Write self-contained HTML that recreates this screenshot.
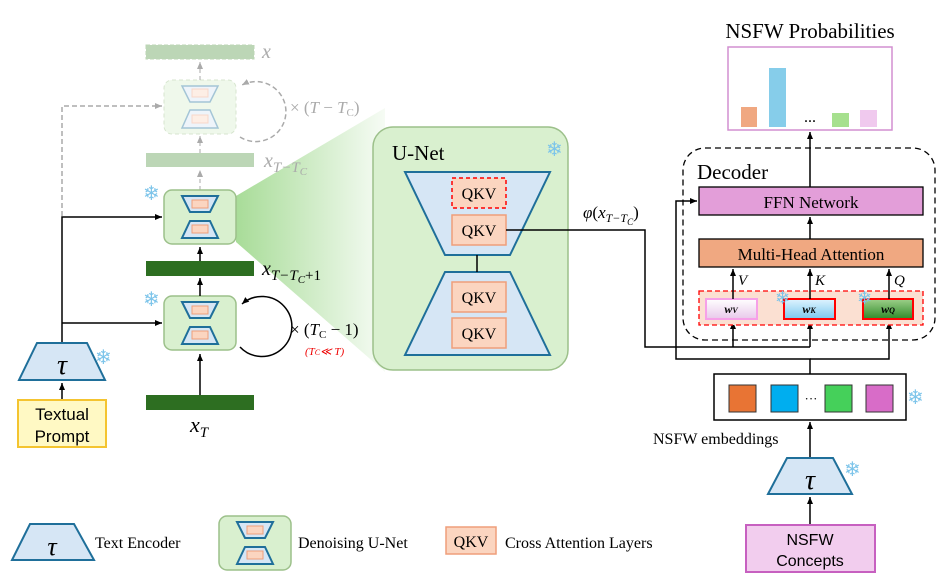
<!DOCTYPE html>
<html><head><meta charset="utf-8"><style>body{margin:0;background:#fff}svg{display:block}text{font-family:"Liberation Serif",serif}</style></head>
<body>
<svg width="946" height="585" viewBox="0 0 946 585" xmlns="http://www.w3.org/2000/svg">
<defs>
<linearGradient id="g" x1="0" x2="1" y1="0" y2="0"><stop offset="0" stop-color="#a8dc98"/><stop offset="1" stop-color="#a8dc98" stop-opacity="0.1"/></linearGradient>
<linearGradient id="wv" x1="0" x2="0" y1="0" y2="1"><stop offset="0" stop-color="#fff"/><stop offset="1" stop-color="#e8c8ea"/></linearGradient>
<linearGradient id="wk" x1="0" x2="0" y1="0" y2="1"><stop offset="0" stop-color="#e0f4ff"/><stop offset="1" stop-color="#7cc8ee"/></linearGradient>
<linearGradient id="wq" x1="0" x2="0" y1="0" y2="1"><stop offset="0" stop-color="#9ed08a"/><stop offset="1" stop-color="#2f8a2a"/></linearGradient>
<marker id="a" markerWidth="8" markerHeight="8" refX="7" refY="4" orient="auto" markerUnits="userSpaceOnUse"><path d="M0,1 L7,4 L0,7z" fill="#000"/></marker>
<marker id="ag" markerWidth="8" markerHeight="8" refX="7" refY="4" orient="auto" markerUnits="userSpaceOnUse"><path d="M0,1 L7,4 L0,7z" fill="#aaa"/></marker>
<g id="un">
<rect x="0" y="0" width="72" height="54" rx="8" fill="#d9f0cf" stroke="#9cc08a" stroke-width="1.5"/>
<path d="M18,6 H54 L46,22 H26z" fill="#d6e6f5" stroke="#1f6f9a" stroke-width="2"/>
<rect x="28" y="10" width="16" height="8" fill="#fbd5c0" stroke="#ef9e7a"/>
<path d="M26,31 H46 L54,48 H18z" fill="#d6e6f5" stroke="#1f6f9a" stroke-width="2"/>
<rect x="28" y="35" width="16" height="8" fill="#fbd5c0" stroke="#ef9e7a"/>
</g>
</defs>
<polygon points="236,196 385,108 385,372 236,242" fill="url(#g)"/>
<g opacity="0.4">
<rect x="146" y="45" width="108" height="14" fill="#5a9a4a" stroke="#5a9a4a" stroke-dasharray="4 2"/>
<rect x="164" y="80" width="72" height="54" rx="8" fill="#d9f0cf" stroke="#9cc08a" stroke-dasharray="4 3"/>
<path d="M182,86 H218 L210,102 H190z" fill="#d6e6f5" stroke="#1f6f9a" stroke-width="1.5"/>
<path d="M190,110 H210 L218,128 H182z" fill="#d6e6f5" stroke="#1f6f9a" stroke-width="1.5"/>
<rect x="192" y="89" width="16" height="8" fill="#fbd5c0" stroke="#ef9e7a"/>
<rect x="192" y="115" width="16" height="8" fill="#fbd5c0" stroke="#ef9e7a"/>
<rect x="146" y="153" width="108" height="14" fill="#5a9a4a"/>
</g>
<text x="262" y="58" font-size="20" font-style="italic" fill="#aaa">x</text>
<text x="264" y="167" font-size="20" font-style="italic" fill="#aaa">x<tspan font-size="15" dy="5">T−T</tspan><tspan font-size="11" dy="3">C</tspan></text>
<path d="M200,80 V62" stroke="#aaa" stroke-dasharray="4 3" marker-end="url(#ag)"/>
<path d="M200,153 V136" stroke="#aaa" stroke-dasharray="4 3" marker-end="url(#ag)"/>
<path d="M200,190 V170" stroke="#aaa" stroke-dasharray="4 3" marker-end="url(#ag)"/>
<path d="M62,216 V106 H162" fill="none" stroke="#aaa" stroke-width="1.5" stroke-dasharray="5 3" marker-end="url(#ag)"/>
<path d="M240,137 A30,30 0 1 0 242,85" fill="none" stroke="#aaa" stroke-width="1.5" stroke-dasharray="5 3" marker-end="url(#ag)"/>
<text x="290" y="113" font-size="17" fill="#aaa">× (<tspan font-style="italic">T</tspan> − <tspan font-style="italic">T</tspan><tspan font-size="11" dy="3">C</tspan><tspan dy="-3">)</tspan></text>
<use href="#un" x="164" y="190"/>
<rect x="146" y="261" width="108" height="15" fill="#2d6e21"/>
<use href="#un" x="164" y="296"/>
<rect x="146" y="395" width="108" height="15" fill="#2d6e21"/>
<path d="M200,261 V247" stroke="#000" stroke-width="1.5" marker-end="url(#a)"/>
<path d="M200,296 V278" stroke="#000" stroke-width="1.5" marker-end="url(#a)"/>
<path d="M200,395 V354" stroke="#000" stroke-width="1.5" marker-end="url(#a)"/>
<path d="M240,347 A30,30 0 1 0 242,304" fill="none" stroke="#000" stroke-width="1.5" marker-end="url(#a)"/>
<text x="262" y="275" font-size="20" font-style="italic">x<tspan font-size="15" dy="5">T−T</tspan><tspan font-size="11" dy="3">C</tspan><tspan font-size="15" dy="-3" font-style="normal">+1</tspan></text>
<text x="290" y="335" font-size="17">× (<tspan font-style="italic">T</tspan><tspan font-size="11" dy="3">C</tspan><tspan dy="-3"> − 1)</tspan></text>
<text x="305" y="355" font-size="11" fill="#e00" font-style="italic">(T<tspan font-size="8">C</tspan>≪ T)</text>
<text x="190" y="432" font-size="22" font-style="italic">x<tspan font-size="15" dy="5">T</tspan></text>
<text x="143" y="200" font-size="20" fill="#7cc4ea">❄</text>
<text x="143" y="306" font-size="20" fill="#7cc4ea">❄</text>
<path d="M62,343 V217 H162" fill="none" stroke="#000" stroke-width="1.5" marker-end="url(#a)"/>
<path d="M62,323 H162" stroke="#000" stroke-width="1.5" marker-end="url(#a)"/>
<path d="M37,343 H87 L105,380 H19z" fill="#d6e6f5" stroke="#1f6f9a" stroke-width="2"/>
<text x="62" y="374" font-size="28" font-style="italic" text-anchor="middle">τ</text>
<text x="95" y="364" font-size="20" fill="#7cc4ea">❄</text>
<path d="M62,400 V383" stroke="#000" stroke-width="1.5" marker-end="url(#a)"/>
<rect x="18" y="400" width="88" height="47" fill="#fff9c4" stroke="#f4c430" stroke-width="2"/>
<text x="62" y="420" font-size="17" text-anchor="middle" style="font-family:'Liberation Sans'">Textual</text>
<text x="62" y="442" font-size="17" text-anchor="middle" style="font-family:'Liberation Sans'">Prompt</text>
<rect x="373" y="127" width="195" height="243" rx="20" fill="#d9f0cf" stroke="#9cc08a" stroke-width="1.5"/>
<text x="392" y="160" font-size="21">U-Net</text>
<text x="546" y="156" font-size="20" fill="#7cc4ea">❄</text>
<path d="M405,172 H550 L510,255 H445z" fill="#d6e6f5" stroke="#1f6f9a" stroke-width="2"/>
<path d="M445,272 H510 L550,355 H405z" fill="#d6e6f5" stroke="#1f6f9a" stroke-width="2"/>
<path d="M477,255 V272" stroke="#000" stroke-width="1.5"/>
<rect x="452" y="178" width="54" height="30" fill="#fbd5c0" stroke="#f00" stroke-width="1.5" stroke-dasharray="4 3"/>
<rect x="452" y="215" width="54" height="30" fill="#fbd5c0" stroke="#ef9e7a" stroke-width="1.5"/>
<rect x="452" y="282" width="54" height="30" fill="#fbd5c0" stroke="#ef9e7a" stroke-width="1.5"/>
<rect x="452" y="318" width="54" height="30" fill="#fbd5c0" stroke="#ef9e7a" stroke-width="1.5"/>
<g font-size="16" text-anchor="middle"><text x="479" y="199">QKV</text><text x="479" y="236">QKV</text><text x="479" y="303">QKV</text><text x="479" y="339">QKV</text></g>
<text x="583" y="218" font-size="17" font-style="italic">φ<tspan font-style="normal">(</tspan>x<tspan font-size="12" dy="4">T−T</tspan><tspan font-size="9" dy="3">C</tspan><tspan font-style="normal" dy="-7">)</tspan></text>
<path d="M506,230 H645 V347 H810" fill="none" stroke="#000" stroke-width="1.5"/>
<path d="M733,347 V322" stroke="#000" stroke-width="1.5" marker-end="url(#a)"/>
<path d="M810,347 V322" stroke="#000" stroke-width="1.5" marker-end="url(#a)"/>
<path d="M810,374 V359 H676 V201 H697" fill="none" stroke="#000" stroke-width="1.5" marker-end="url(#a)"/>
<path d="M810,359 H889 V322" fill="none" stroke="#000" stroke-width="1.5" marker-end="url(#a)"/>
<rect x="683" y="148" width="252" height="192" rx="22" fill="none" stroke="#000" stroke-width="1.3" stroke-dasharray="6 4"/>
<text x="697" y="179" font-size="21">Decoder</text>
<rect x="699" y="187" width="224" height="28" fill="#e39ed9" stroke="#000" stroke-width="1.3"/>
<text x="811" y="208" font-size="17" text-anchor="middle">FFN Network</text>
<rect x="699" y="239" width="224" height="28" fill="#f0a881" stroke="#000" stroke-width="1.3"/>
<text x="811" y="260" font-size="17" text-anchor="middle">Multi-Head Attention</text>
<path d="M810,239 V217" stroke="#000" stroke-width="1.5" marker-end="url(#a)"/>
<path d="M810,187 V132" stroke="#000" stroke-width="1.5" marker-end="url(#a)"/>
<rect x="699" y="291" width="224" height="34" fill="#fbe0d2" stroke="#f00" stroke-width="1.3" stroke-dasharray="5 3"/>
<rect x="706" y="299" width="51" height="20" fill="url(#wv)" stroke="#f6a0e8" stroke-width="2"/>
<rect x="784" y="299" width="51" height="20" fill="url(#wk)" stroke="#f00" stroke-width="2"/>
<rect x="863" y="299" width="50" height="20" fill="url(#wq)" stroke="#f00" stroke-width="2"/>
<g font-size="12" font-weight="bold" font-style="italic" text-anchor="middle"><text x="731" y="313">w<tspan font-size="8">V</tspan></text><text x="809" y="313">w<tspan font-size="8">K</tspan></text><text x="888" y="313">w<tspan font-size="8">Q</tspan></text></g>
<path d="M733,299 V269" stroke="#000" stroke-width="1.5" marker-end="url(#a)"/>
<path d="M810,299 V269" stroke="#000" stroke-width="1.5" marker-end="url(#a)"/>
<path d="M889,299 V269" stroke="#000" stroke-width="1.5" marker-end="url(#a)"/>
<g font-size="15" font-style="italic"><text x="738" y="285">V</text><text x="815" y="285">K</text><text x="894" y="285">Q</text></g>
<text x="775" y="304" font-size="18" fill="#7cc4ea">❄</text>
<text x="857" y="304" font-size="18" fill="#7cc4ea">❄</text>
<text x="810" y="38" font-size="21" text-anchor="middle">NSFW Probabilities</text>
<rect x="728" y="47" width="164" height="83" fill="#fff" stroke="#d28fd0" stroke-width="1.5"/>
<rect x="741" y="107" width="16" height="20" fill="#f0a881"/>
<rect x="769" y="68" width="17" height="59" fill="#86cdea"/>
<text x="810" y="122" font-size="16" text-anchor="middle">...</text>
<rect x="832" y="113" width="17" height="14" fill="#a6e08e"/>
<rect x="860" y="110" width="17" height="17" fill="#f0c9ee"/>
<rect x="714" y="374" width="192" height="46" fill="#fff" stroke="#000" stroke-width="1.5"/>
<rect x="729" y="385" width="27" height="27" fill="#e87434" stroke="#333"/>
<rect x="771" y="385" width="27" height="27" fill="#00aeef" stroke="#333"/>
<text x="811" y="403" font-size="13" text-anchor="middle">···</text>
<rect x="825" y="385" width="27" height="27" fill="#45d05a" stroke="#333"/>
<rect x="866" y="385" width="27" height="27" fill="#d86cc8" stroke="#333"/>
<text x="907" y="404" font-size="20" fill="#7cc4ea">❄</text>
<text x="653" y="444" font-size="16">NSFW embeddings</text>
<path d="M810,458 V422" stroke="#000" stroke-width="1.5" marker-end="url(#a)"/>
<path d="M787,458 H833 L852,494 H768z" fill="#d6e6f5" stroke="#1f6f9a" stroke-width="2"/>
<text x="810" y="489" font-size="28" font-style="italic" text-anchor="middle">τ</text>
<text x="844" y="476" font-size="20" fill="#7cc4ea">❄</text>
<path d="M810,524 V497" stroke="#000" stroke-width="1.5" marker-end="url(#a)"/>
<rect x="746" y="525" width="129" height="47" fill="#f2cdee" stroke="#c760c0" stroke-width="2"/>
<text x="810" y="545" font-size="16" text-anchor="middle" style="font-family:'Liberation Sans'">NSFW</text>
<text x="810" y="566" font-size="16" text-anchor="middle" style="font-family:'Liberation Sans'">Concepts</text>
<path d="M30,524 H74 L94,560 H12z" fill="#d6e6f5" stroke="#1f6f9a" stroke-width="2"/>
<text x="52" y="555" font-size="26" font-style="italic" text-anchor="middle">τ</text>
<text x="95" y="548" font-size="16">Text Encoder</text>
<use href="#un" x="219" y="516"/>
<text x="298" y="548" font-size="16">Denoising U-Net</text>
<rect x="446" y="527" width="50" height="27" fill="#fbd5c0" stroke="#ef9e7a" stroke-width="1.5"/>
<text x="471" y="547" font-size="16" text-anchor="middle">QKV</text>
<text x="505" y="548" font-size="16">Cross Attention Layers</text>
</svg>
</body></html>
